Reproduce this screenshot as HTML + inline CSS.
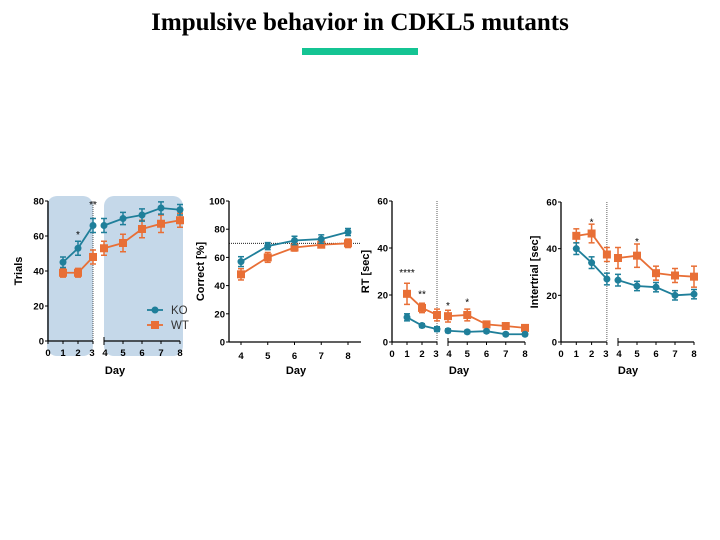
<!DOCTYPE html>
<html><head><meta charset="utf-8"><style>
body{margin:0;width:720px;height:540px;background:#fff;overflow:hidden;font-family:"Liberation Sans",sans-serif}
#title{position:absolute;left:0;width:720px;top:9px;text-align:center;font-family:"Liberation Serif",serif;font-weight:bold;font-size:25px;color:#000}
#bar{position:absolute;left:302px;top:48px;width:116px;height:7px;background:#14c493}
svg{position:absolute;left:0;top:0}
</style></head><body>
<div id="title">Impulsive behavior in CDKL5 mutants</div>
<div id="bar"></div>
<svg id="chart" width="720" height="540"></svg>
<script>
const days8=[1,2,3,4,5,6,7,8];
const daysB=[4,5,6,7,8];
const trialsKO=[45,53,66,66,70,72,76,75];
const trialsWT=[39,39,48,53,56,64,67,69];
const trialsErrKO=[3,4,4,4,3.5,3.5,3.5,3];
const trialsErrWT=[2.5,2.5,4,4,5,5,5,4];
const correctKO=[57,68,72,73,78];
const correctWT=[48,60,67,69,70];
const correctErrKO=[3.5,2.5,3,3,2.5];
const correctErrWT=[4,3.5,2.5,2,3];
const rtKO=[10.5,7,5.5,4.8,4.3,4.6,3.3,3.3];
const rtWT=[20.5,14.5,11.5,11,11.5,7.5,6.8,6];
const rtErrKO=[1.5,0.8,1,0.8,0.7,0.7,0.6,0.6];
const rtErrWT=[4.5,2,2.5,2.5,2.5,1,1.2,1];
const itiKO=[40,34,27,26.5,24,23.5,20,20.5];
const itiWT=[45.5,46.5,37.5,36,37,29.5,28.5,28];
const itiErrKO=[2.5,2.5,2.5,2.5,2,2,2,2];
const itiErrWT=[3,4,3,4.5,5,3,3,4.5];
const NS="http://www.w3.org/2000/svg";
const svg=document.getElementById('chart');
const KO="#1f7f9a",WT="#e86f36";
function el(t,a,p){const e=document.createElementNS(NS,t);for(const k in a)e.setAttribute(k,a[k]);(p||svg).appendChild(e);return e;}
function txt(x,y,s,a,p){const e=el('text',Object.assign({x:x,y:y,'font-size':10,'font-family':'Liberation Sans, sans-serif','text-anchor':'middle'},a||{}),p);e.textContent=s;return e;}
function panel(c){
  const g=el('g',{});
  
  
  const ys=v=>c.y0-(v/c.ymax)*(c.y0-c.y1);
  const xs=d=>d<=3&&c.split?c.ax+(d)*c.s1:c.x4+(d-4)*c.s2;
  if(c.shade){
    const r1=el('rect',{x:c.ax-1,y:196,width:xs(3)-c.ax+1,height:160,rx:10,fill:'#c5d8e9'},g);
    
    const r2=el('rect',{x:xs(4),y:196,width:xs(8)-xs(4)+3,height:160,rx:10,fill:'#c5d8e9'},g);
    
  }
  el('line',{x1:c.ax,y1:c.y1,x2:c.ax,y2:c.y0,stroke:'#000','stroke-width':1.3},g);
  for(const t of c.yt){const y=ys(t);el('line',{x1:c.ax-3,y1:y,x2:c.ax,y2:y,stroke:'#000'},g);
    const tl=txt(c.ax-4,y+3.5,t,{'text-anchor':'end','font-size':9.5,'font-weight':'bold'},g);
    }
  if(c.split){
    el('line',{x1:c.ax,y1:c.y0,x2:xs(3),y2:c.y0,stroke:'#000','stroke-width':1.3},g);
    el('line',{x1:xs(4),y1:c.y0,x2:xs(8),y2:c.y0,stroke:'#000','stroke-width':1.3},g);
    el('line',{x1:xs(4),y1:c.y0-4,x2:xs(4),y2:c.y0+4,stroke:'#000'},g);
    [0,1,2,3,4,5,6,7,8].forEach(d=>{el('line',{x1:xs(d),y1:c.y0,x2:xs(d),y2:c.y0+3,stroke:'#000'},g);
      const tl=txt(xs(d)+(d==3?-1:d==4?1:0),c.y0+15,d,{'font-size':9.5,'font-weight':'bold'},g);
      });
    el('line',{x1:xs(3),y1:c.y1,x2:xs(3),y2:c.y0,stroke:'#333','stroke-width':0.8,'stroke-dasharray':'1,1'},g);
  } else {
    el('line',{x1:c.ax,y1:c.y0,x2:c.ax+132,y2:c.y0,stroke:'#000','stroke-width':1.3},g);
    daysB.forEach(d=>{el('line',{x1:xs(d),y1:c.y0,x2:xs(d),y2:c.y0+3,stroke:'#000'},g);
      const tl=txt(xs(d),c.y0+17,d,{'font-size':9.5,'font-weight':'bold'},g);
      });
    el('line',{x1:c.ax,y1:ys(70),x2:c.ax+132,y2:ys(70),stroke:'#000','stroke-width':0.8,'stroke-dasharray':'1,1'},g);
  }
  const xl=txt(c.xlab,374,'Day',{'font-size':11,'font-weight':'bold'},g);
  
  const yl=txt(0,0,c.ylabel,{'font-size':11,'font-weight':'bold',transform:`translate(${c.ylx},${(c.y0+c.y1)/2}) rotate(-90)`},g);
  
  [[c.wt,c.errWT,WT,'sq'],[c.ko,c.errKO,KO,'ci']].forEach(([vals,errs,col,m])=>{
    const segs=c.split?[[0,3],[3,8]]:[[0,vals.length]];
    for(const [a,b] of segs){
      const pts=c.days.slice(a,b).map((d,i)=>xs(d)+','+ys(vals[a+i])).join(' ');
      const pl=el('polyline',{points:pts,fill:'none',stroke:col,'stroke-width':1.8},g);
      
    }
    vals.forEach((v,i)=>{const x=xs(c.days[i]),y=ys(v),e=ys(0)-ys(errs[i]);
      el('line',{x1:x,y1:y-e,x2:x,y2:y+e,stroke:col,'stroke-width':1.5},g);
      el('line',{x1:x-3,y1:y-e,x2:x+3,y2:y-e,stroke:col,'stroke-width':1.5},g);
      el('line',{x1:x-3,y1:y+e,x2:x+3,y2:y+e,stroke:col,'stroke-width':1.5},g);
      const p=m=='sq'?el('rect',{x:x-4,y:y-4,width:8,height:8,fill:col},g):el('circle',{cx:x,cy:y,r:3.5,fill:col},g);
      });
  });
  (c.stars||[]).forEach(([d,yv,s])=>{const t=txt(xs(d),ys(yv),s,{'font-size':10},g);
    });
  return g;
}
panel({name:'trials-chart',ax:48,y0:341,y1:201,ymax:80,yt:[0,20,40,60,80],split:true,s1:15,x4:104,s2:19,days:days8,ko:trialsKO,wt:trialsWT,errKO:trialsErrKO,errWT:trialsErrWT,ylabel:'Trials',ylx:22,xlab:115,shade:true,stars:[[2,59,'*'],[3,76,'**']]});
panel({name:'correct-chart',ax:229,y0:342,y1:201,ymax:100,yt:[0,20,40,60,80,100],split:false,x4:241,s2:26.75,days:daysB,ko:correctKO,wt:correctWT,errKO:correctErrKO,errWT:correctErrWT,ylabel:'Correct [%]',ylx:204,xlab:296});
panel({name:'rt-chart',ax:392,y0:342,y1:201,ymax:60,yt:[0,20,40,60],split:true,s1:15,x4:448,s2:19.25,days:days8,ko:rtKO,wt:rtWT,errKO:rtErrKO,errWT:rtErrWT,ylabel:'RT [sec]',ylx:369,xlab:459,stars:[[1,28,'****'],[2,19,'**'],[4,14,'*'],[5,15.5,'*']]});
panel({name:'intertrial-chart',ax:561,y0:342,y1:202,ymax:60,yt:[0,20,40,60],split:true,s1:15.3,x4:618,s2:19,days:days8,ko:itiKO,wt:itiWT,errKO:itiErrKO,errWT:itiErrWT,ylabel:'Intertrial [sec]',ylx:538,xlab:628,stars:[[2,50,'*'],[5,41.5,'*']]});
const lg=el('g',{});


el('line',{x1:147,y1:310,x2:163,y2:310,stroke:KO,'stroke-width':1.8},lg);
el('circle',{cx:155,cy:310,r:3.5,fill:KO},lg);
txt(171,314,'KO',{'font-size':11.5,'text-anchor':'start',fill:'#333'},lg);
el('line',{x1:147,y1:325,x2:163,y2:325,stroke:WT,'stroke-width':1.8},lg);
el('rect',{x:151,y:321,width:8,height:8,fill:WT},lg);
txt(171,329,'WT',{'font-size':11.5,'text-anchor':'start',fill:'#333'},lg);
</script>
</body></html>
